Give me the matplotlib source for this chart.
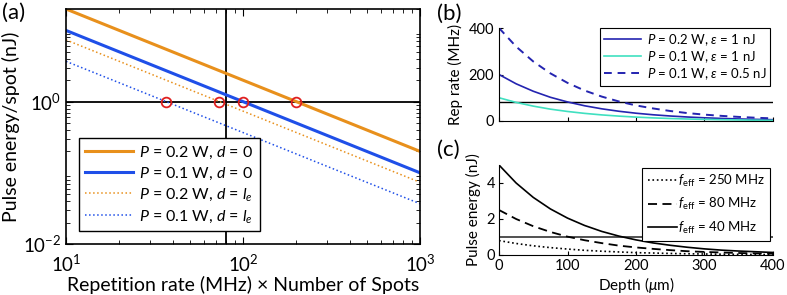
import numpy as np
import matplotlib
matplotlib.use("Agg")
import matplotlib.pyplot as plt
from matplotlib.ticker import FixedLocator, LogLocator, NullFormatter, FuncFormatter

plt.rcParams['font.family'] = ['Lato', 'DejaVu Sans']
plt.rcParams['mathtext.fontset'] = 'custom'
plt.rcParams['mathtext.rm'] = 'Lato'
plt.rcParams['mathtext.it'] = 'Lato:italic'
plt.rcParams['mathtext.bf'] = 'Lato:bold'

# ---- panel (a) data: endpoints of straight lines on log-log axes ----
rate_ends = [10, 1000]                  # MHz x number of spots
e_p02_d0 = [20.0, 0.2]                  # nJ
e_p01_d0 = [10.0, 0.1]
e_p02_dle = [7.36, 0.0736]
e_p01_dle = [3.68, 0.0368]
cross_rates = [36.8, 73.6, 100, 200]    # red circles at 1 nJ
cross_energy = [1, 1, 1, 1]
vline_rate = 80
hline_energy = 1

# ---- panel (b) data ----
depth = [0, 25, 50, 75, 100, 125, 150, 175, 200, 225, 250, 275, 300, 325, 350, 375, 400]
rep_p02_e1 = [200, 160, 128, 102, 82, 65.5, 52.4, 41.9, 33.5, 26.8, 21.5, 17.2, 13.7, 11.0, 8.8, 7.0, 5.6]
rep_p01_e1 = [100, 80, 64, 51, 41, 32.8, 26.2, 21.0, 16.8, 13.4, 10.7, 8.6, 6.9, 5.5, 4.4, 3.5, 2.8]
rep_p01_e05 = [400, 320, 256, 205, 164, 131, 105, 84, 67, 54, 43, 34, 27.4, 22, 17.6, 14, 11.2]
rep_hline = 80

# ---- panel (c) data ----
pe_250 = [0.8, 0.64, 0.51, 0.41, 0.33, 0.26, 0.21, 0.17, 0.13, 0.11, 0.086, 0.069, 0.055, 0.044, 0.035, 0.028, 0.022]
pe_80 = [2.5, 2.0, 1.6, 1.28, 1.02, 0.82, 0.66, 0.52, 0.42, 0.34, 0.27, 0.21, 0.17, 0.14, 0.11, 0.09, 0.07]
pe_40 = [5.0, 4.0, 3.2, 2.56, 2.05, 1.64, 1.31, 1.05, 0.84, 0.67, 0.54, 0.43, 0.34, 0.27, 0.22, 0.18, 0.14]
pe_hline = 1

orange = '#E8901C'
blue = '#1F4FE8'
navy = '#2424B0'
aqua = '#40E0C0'

fig = plt.figure(figsize=(7.87, 2.95), dpi=100)

# ---------------- (a) ----------------
axa = fig.add_axes([66/787, 1-244/295, (420-66)/787, (244-9)/295])
axa.plot(rate_ends, e_p02_d0, color=orange, lw=2.2, label='$P$ = 0.2 W, $d$ = 0')
axa.plot(rate_ends, e_p01_d0, color=blue, lw=2.2, label='$P$ = 0.1 W, $d$ = 0')
axa.plot(rate_ends, e_p02_dle, color=orange, lw=1.1, ls=':', label='$P$ = 0.2 W, $d$ = $l_e$')
axa.plot(rate_ends, e_p01_dle, color=blue, lw=1.1, ls=':', label='$P$ = 0.1 W, $d$ = $l_e$')
axa.axhline(hline_energy, color='black', lw=1.3, zorder=1)
axa.axvline(vline_rate, color='black', lw=1.3, zorder=1)
axa.plot(cross_rates, cross_energy, 'o', ms=7, mfc='none', mec='#E02020', mew=1.3, zorder=5)
axa.set_xscale('log')
axa.set_yscale('log')
axa.set_xlim(10, 1000)
axa.set_ylim(1e-2, 20)
axa.yaxis.set_major_locator(FixedLocator([1e-2, 1e0]))
axa.yaxis.set_minor_locator(LogLocator(base=10, subs=np.arange(2, 10)))
axa.yaxis.set_minor_formatter(NullFormatter())
axa.xaxis.set_minor_formatter(NullFormatter())
fmt = FuncFormatter(lambda v, p: '$10^{%d}$' % int(round(np.log10(v))))
axa.xaxis.set_major_formatter(fmt)
axa.yaxis.set_major_formatter(fmt)
axa.tick_params(which='both', direction='in', top=True, right=True, labelsize=13.5)
axa.tick_params(axis='x', pad=7)
axa.tick_params(which='major', length=5)
axa.tick_params(which='minor', length=3)
for s in axa.spines.values():
    s.set_linewidth(1.2)
axa.set_xlabel('Repetition rate (MHz) × Number of Spots', fontsize=14, labelpad=1)
axa.set_ylabel('Pulse energy/spot (nJ)', fontsize=14, labelpad=2)
leg = axa.legend(loc='lower left', fontsize=11.5, handlelength=3.0, handletextpad=0.4,
                 fancybox=False, edgecolor='black', framealpha=1, borderaxespad=0.8,
                 labelspacing=0.3)
leg.get_frame().set_linewidth(1.0)
fig.text(0.003, 0.955, '(a)', fontsize=16, va='center')

# ---------------- (b) ----------------
axb = fig.add_axes([499/787, 1-121/295, (773-499)/787, (121-28)/295])
axb.plot(depth, rep_p02_e1, color=navy, lw=1.2, label='$P$ = 0.2 W, $\\varepsilon$ = 1 nJ')
axb.plot(depth, rep_p01_e1, color=aqua, lw=1.2, label='$P$ = 0.1 W, $\\varepsilon$ = 1 nJ')
axb.plot(depth, rep_p01_e05, color=navy, lw=1.4, ls=(0, (4, 3)), label='$P$ = 0.1 W, $\\varepsilon$ = 0.5 nJ')
axb.axhline(rep_hline, color='black', lw=1.0, zorder=1)
axb.set_xlim(0, 400)
axb.set_ylim(0, 400)
axb.set_xticks([0, 100, 200, 300, 400])
axb.set_xticklabels([])
axb.set_yticks([0, 200, 400])
axb.tick_params(direction='in', labelsize=10.5, length=3)
axb.spines['top'].set_visible(False)
axb.spines['right'].set_visible(False)
axb.set_ylabel('Rep rate (MHz)', fontsize=11)
legb = axb.legend(loc='upper right', fontsize=9.5, handlelength=2.8, handletextpad=0.4,
                  fancybox=False, edgecolor='black', framealpha=1, borderaxespad=0.0,
                  labelspacing=0.1, borderpad=0.3, bbox_to_anchor=(0.99, 1.0))
legb.get_frame().set_linewidth(0.8)
fig.text(437/787, 1-14/295, '(b)', fontsize=16, va='center')

# ---------------- (c) ----------------
axc = fig.add_axes([499/787, 1-255/295, (773-499)/787, (255-165)/295])
axc.plot(depth, pe_250, color='black', lw=1.2, ls=':', label='$f_{\\rm eff}$ = 250 MHz')
axc.plot(depth, pe_80, color='black', lw=1.3, ls=(0, (5, 3)), label='$f_{\\rm eff}$ = 80 MHz')
axc.plot(depth, pe_40, color='black', lw=1.2, label='$f_{\\rm eff}$ = 40 MHz')
axc.axhline(pe_hline, color='#333333', lw=1.2, zorder=1)
axc.set_xlim(0, 400)
axc.set_ylim(0, 5)
axc.set_xticks([0, 100, 200, 300, 400])
axc.set_yticks([0, 2, 4])
axc.tick_params(direction='in', labelsize=10.5, length=3, pad=3)
axc.spines['top'].set_visible(False)
axc.spines['right'].set_visible(False)
axc.set_xlabel('Depth ($\\mu$m)', fontsize=11, labelpad=1)
axc.set_ylabel('Pulse energy (nJ)', fontsize=11)
legc = axc.legend(loc='upper right', fontsize=9.5, handlelength=2.2, handletextpad=0.1,
                  fancybox=False, edgecolor='black', framealpha=1, borderaxespad=0.0,
                  labelspacing=0.55, borderpad=0.4, bbox_to_anchor=(0.99, 0.97))
legc.get_frame().set_linewidth(0.8)
fig.text(437/787, 1-150/295, '(c)', fontsize=16, va='center')

fig.savefig('out.png', dpi=100)
